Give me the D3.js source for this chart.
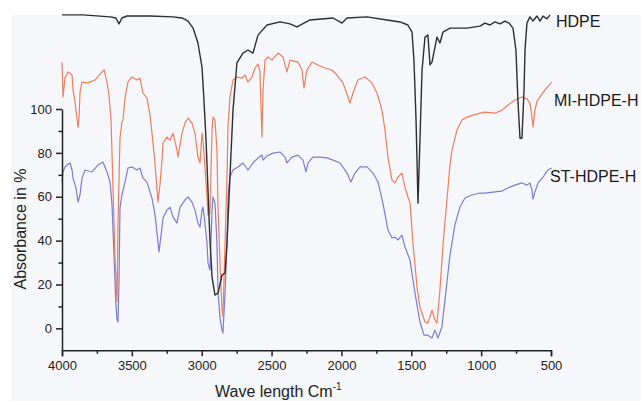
<!DOCTYPE html>
<html>
<head>
<meta charset="utf-8">
<script src="https://cdn.jsdelivr.net/npm/d3@7"></script>
<style>
    html, body { margin: 0; padding: 0; background: #ffffff; }
    svg { display: block; font-family: "Liberation Sans", Arial, sans-serif; }
</style>
</head>
<body>
<div id="chart"></div>
<script>
// --- DATA ---

// [wavenumber cm-1, absorbance %]
const hdpeData = [
    [4000,142.9],[3850,142.9],[3656,142.0],[3614,141.5],[3592,138.8],[3571,141.5],[3535,142.4],
    [3370,142.4],[3206,142.0],[3141,141.5],[3098,140.1],[3062,136.9],[3027,130.1],[2998,119.1],
    [2984,104.1],[2969,85.8],[2955,63.1],[2941,40.3],[2926,23.4],[2905,15.2],[2883,16.1],
    [2855,24.3],[2833,25.2],[2819,38.9],[2798,69.0],[2776,99.5],[2748,121.0],[2705,125.5],
    [2669,126.9],[2633,125.5],[2597,133.7],[2533,138.3],[2440,139.7],[2368,138.8],[2318,137.4],
    [2225,140.6],[2060,141.5],[1996,139.2],[1960,141.5],[1817,142.0],[1674,140.6],[1581,139.7],
    [1524,138.3],[1495,135.1],[1481,122.4],[1466,95.0],[1452,57.1],[1438,85.8],[1423,117.8],
    [1402,132.8],[1381,133.7],[1366,120.1],[1352,121.4],[1316,132.8],[1295,130.1],[1273,135.1],
    [1223,136.9],[1101,136.9],[1008,137.8],[973,139.2],[937,138.3],[901,139.7],[865,138.8],
    [829,140.1],[801,139.2],[772,136.9],[751,126.9],[737,104.1],[722,86.7],[708,86.7],
    [693,108.6],[686,126.9],[672,139.2],[651,142.0],[629,140.1],[600,142.4],[579,140.1],
    [557,142.4],[529,141.1],[507,142.9]
];

const miData = [
    [4000,121.4],[3993,105.5],[3979,114.1],[3957,116.9],[3928,115.5],[3921,108.6],[3907,103.2],
    [3885,91.7],[3878,95.9],[3871,107.7],[3857,112.3],[3814,111.9],[3764,113.2],[3714,116.9],
    [3699,117.8],[3678,112.3],[3664,106.4],[3649,95.0],[3635,64.0],[3621,33.4],[3606,12.0],
    [3599,48.5],[3585,86.8],[3571,94.0],[3563,95.0],[3549,105.0],[3528,112.3],[3499,114.6],
    [3463,113.2],[3442,114.1],[3420,107.3],[3392,105.0],[3370,97.2],[3349,84.9],[3334,74.5],
    [3320,63.1],[3313,57.6],[3299,65.3],[3284,76.7],[3277,84.5],[3249,87.2],[3227,85.8],
    [3206,89.0],[3177,81.3],[3170,78.1],[3141,89.0],[3120,93.6],[3098,95.9],[3070,93.6],
    [3048,89.0],[3027,78.1],[3012,75.4],[2998,89.0],[2991,85.8],[2977,73.5],[2962,59.9],
    [2955,51.7],[2941,52.6],[2926,90.4],[2919,96.3],[2905,94.9],[2891,81.3],[2883,54.0],
    [2869,29.8],[2855,8.3],[2848,5.2],[2833,38.9],[2819,69.0],[2812,91.8],[2798,105.4],
    [2776,113.2],[2748,114.6],[2712,114.1],[2690,115.5],[2669,112.3],[2640,114.6],[2619,118.7],
    [2597,120.5],[2583,116.9],[2569,87.2],[2561,108.7],[2547,122.3],[2526,123.7],[2497,122.3],
    [2454,125.5],[2418,123.7],[2390,116.9],[2368,122.3],[2311,121.4],[2282,117.8],[2268,109.6],
    [2247,117.8],[2211,121.4],[2168,120.1],[2118,118.7],[2068,117.8],[2032,115.5],[1989,111.9],
    [1953,105.5],[1939,102.7],[1917,107.3],[1882,113.2],[1831,114.6],[1781,111.9],[1746,107.3],
    [1710,99.5],[1688,90.4],[1667,78.1],[1638,67.6],[1617,66.3],[1595,69.0],[1567,70.8],
    [1545,64.4],[1524,59.9],[1509,57.1],[1488,38.9],[1459,18.8],[1438,9.7],[1402,2.9],
    [1381,2.4],[1352,8.3],[1331,3.8],[1316,2.4],[1295,17.5],[1273,38.0],[1245,58.5],
    [1223,74.5],[1209,81.3],[1173,90.4],[1137,95.0],[1101,96.3],[1058,97.2],[1008,98.1],
    [973,98.6],[901,98.1],[851,99.5],[808,101.8],[758,104.1],[708,105.5],[672,104.6],
    [651,102.7],[636,96.3],[629,91.8],[615,99.5],[600,103.6],[579,105.5],[543,108.7],
    [514,110.9],[495,112.3]
];

const stData = [
    [4000,66.7],[3993,71.3],[3979,73.5],[3964,74.5],[3943,75.4],[3928,72.2],[3921,68.5],
    [3900,64.0],[3885,57.6],[3871,60.8],[3857,68.5],[3835,72.2],[3785,71.3],[3742,74.5],
    [3707,75.8],[3678,71.3],[3656,66.7],[3642,56.2],[3628,33.4],[3614,10.6],[3606,3.8],
    [3599,2.9],[3592,21.1],[3585,54.9],[3571,60.8],[3549,66.7],[3528,73.1],[3499,73.6],
    [3463,72.2],[3442,73.1],[3420,68.5],[3392,66.7],[3356,59.4],[3334,51.7],[3313,39.3],
    [3306,34.8],[3291,42.5],[3277,50.3],[3249,53.9],[3227,55.3],[3206,50.8],[3177,48.0],
    [3155,55.3],[3120,58.5],[3098,59.9],[3070,57.6],[3048,53.9],[3027,48.0],[3012,46.2],
    [2998,53.9],[2991,55.3],[2977,48.0],[2962,38.9],[2955,29.8],[2941,26.6],[2926,53.9],
    [2919,59.9],[2905,57.1],[2891,38.9],[2883,16.1],[2869,4.7],[2855,-0.8],[2848,-2.1],
    [2833,16.1],[2819,38.9],[2812,59.9],[2798,69.0],[2776,72.2],[2741,73.6],[2705,75.4],
    [2669,72.2],[2633,75.4],[2597,77.7],[2569,79.0],[2561,76.7],[2533,78.6],[2490,79.9],
    [2440,80.4],[2404,78.1],[2390,75.4],[2354,78.1],[2311,79.0],[2275,76.7],[2254,71.3],
    [2239,75.4],[2204,78.1],[2153,78.1],[2103,77.7],[2060,76.7],[2010,75.4],[1960,70.8],
    [1932,66.7],[1903,70.8],[1867,73.6],[1817,73.6],[1774,70.8],[1738,66.7],[1703,57.1],
    [1667,44.8],[1638,41.2],[1617,41.6],[1595,40.3],[1567,42.5],[1545,37.1],[1509,31.1],
    [1488,22.0],[1459,10.6],[1438,2.9],[1409,-3.1],[1381,-3.1],[1352,-4.4],[1331,-0.8],
    [1309,-4.4],[1281,0.6],[1259,12.9],[1223,33.4],[1188,47.1],[1152,55.3],[1116,59.4],
    [1066,60.8],[1008,61.7],[973,61.7],[901,62.2],[851,62.6],[808,64.0],[758,65.3],
    [708,66.3],[672,65.3],[651,66.3],[636,63.1],[629,58.9],[615,62.2],[593,66.3],
    [557,69.0],[522,72.2],[495,73.1]
];

const seriesNames = ["ST-HDPE-H", "MI-HDPE-H", "HDPE"];
const seriesColors = ["#7b7dd2", "#f07d5d", "#2e2e2e"];
const labelAnchor = [[550, 182], [554, 106], [556, 27]];

const xTicks = [4000, 3500, 3000, 2500, 2000, 1500, 1000, 500];
const xMinorTicks = [3750, 3250, 2750, 2250, 1750, 1250, 750];
const yTicks = [0, 20, 40, 60, 80, 100];
const yMinorTicks = [10, 30, 50, 70, 90];


// --- CHART ---

const size = {width: 641, height: 401};

const svg = d3.select("#chart").append("svg")
    .attr("width", size.width)
    .attr("height", size.height);

// faint tinted panel behind the figure
svg.append("rect")
    .attr("x", 11).attr("y", 15)
    .attr("width", size.width - 11).attr("height", size.height - 15)
    .attr("fill", "#f6f7fb");

// Scales
const xScale = d3.scaleLinear().domain([4000, 500]).range([62, 551]);
const yScale = d3.scaleLinear().domain([-10, 143]).range([350.3, 14.7]);
// the left axis line only runs up to 100
const yAxisScale = d3.scaleLinear().domain([-10, 100]).range([yScale(-10), yScale(100)]);

// Lines (drawn blue, orange, then black on top)
const line = d3.line()
    .x(d => xScale(d[0]))
    .y(d => yScale(d[1]));

const allSeries = [stData, miData, hdpeData];
svg.append("g")
    .selectAll("path")
    .data(allSeries)
    .join("path")
    .attr("fill", "none")
    .attr("stroke", (d, i) => seriesColors[i])
    .attr("stroke-width", (d, i) => i === 2 ? 1.4 : 1.2)
    .attr("stroke-linejoin", "round")
    .attr("d", line);

// Axes
const axisColor = "#222";
const xAxisG = svg.append("g")
    .attr("transform", "translate(0," + yScale(-10) + ")");
xAxisG.call(d3.axisBottom(xScale).tickValues(xTicks).tickSize(6).tickPadding(4).tickFormat(d3.format("d")));
xAxisG.append("g")
    .call(d3.axisBottom(xScale).tickValues(xMinorTicks).tickSize(3.5).tickFormat(""))
    .select(".domain").remove();

const yAxisG = svg.append("g")
    .attr("transform", "translate(" + xScale(4000) + ",0)");
yAxisG.call(d3.axisLeft(yAxisScale).tickValues(yTicks).tickSize(6).tickPadding(4).tickSizeOuter(0));
yAxisG.append("g")
    .call(d3.axisLeft(yAxisScale).tickValues(yMinorTicks).tickSize(3.5).tickFormat(""))
    .select(".domain").remove();

svg.selectAll(".domain, .tick line")
    .attr("stroke", axisColor)
    .attr("stroke-width", 1.5);
svg.selectAll(".tick text")
    .attr("fill", "#222")
    .style("font-size", "13px")
    .style("font-family", "'Liberation Sans', Arial, sans-serif");

// Axis titles
const xTitle = svg.append("text")
    .attr("x", 215).attr("y", 397)
    .attr("fill", "#222")
    .style("font-size", "16px");
xTitle.append("tspan").text("Wave length Cm");
xTitle.append("tspan").attr("dy", -7).style("font-size", "10px").text("-1");

svg.append("text")
    .attr("transform", "translate(26,229) rotate(-90)")
    .attr("text-anchor", "middle")
    .attr("fill", "#222")
    .style("font-size", "16px")
    .text("Absorbance in %");

// Series labels at the right end
svg.append("g")
    .selectAll("text")
    .data(seriesNames)
    .join("text")
    .attr("x", (d, i) => labelAnchor[i][0])
    .attr("y", (d, i) => labelAnchor[i][1])
    .attr("fill", "#1a1a1a")
    .style("font-size", "16px")
    .text(d => d);
</script>
</body>
</html>
